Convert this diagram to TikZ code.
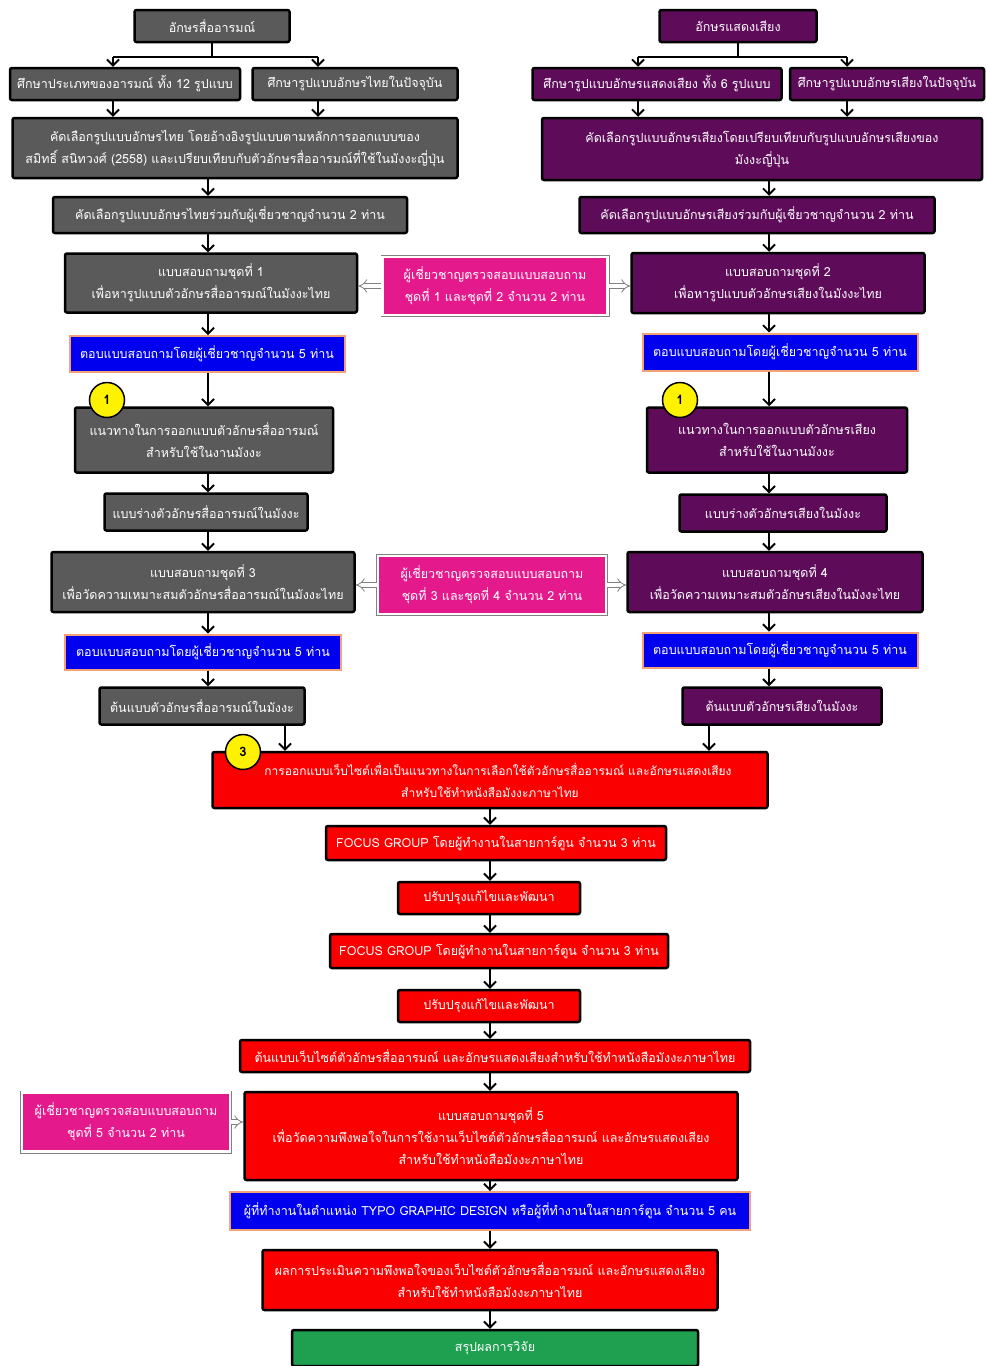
\documentclass[tikz,border=0pt]{standalone}
\usepackage{fontspec}
\setmainfont{Loma}[Script=Thai]
\usetikzlibrary{arrows.meta}
\definecolor{boxgray}{RGB}{90,90,90}
\definecolor{boxpurple}{RGB}{94,12,90}
\definecolor{boxpink}{RGB}{228,26,140}
\definecolor{boxblue}{RGB}{0,0,238}
\definecolor{boxorange}{RGB}{244,160,120}
\definecolor{boxred}{RGB}{250,0,0}
\definecolor{boxgreen}{RGB}{30,160,80}
\begin{document}
\begin{tikzpicture}
[x=1pt,y=-1pt,
  every node/.style={font=\fontsize{12.5}{22}\selectfont,text=white,align=center,inner sep=2pt},
  basebox/.style={shape=rectangle,rounded corners=2pt,draw=black,line width=2.5pt},
  graybox/.style={basebox,fill=boxgray},
  purplebox/.style={basebox,fill=boxpurple},
  redbox/.style={basebox,fill=boxred},
  greenbox/.style={basebox,fill=boxgreen},
  bluebox/.style={shape=rectangle,fill=boxblue,draw=boxorange,line width=2pt},
  pinkbox/.style={shape=rectangle,fill=boxpink,draw=white,line width=2.5pt,
    preaction={draw=gray,line width=4pt}},
  numdecorate/.style={shape=circle,fill=yellow,draw=black,line width=1.5pt,
    minimum size=35,text=black,font=\bfseries\fontsize{13}{13}\selectfont},
  linedecorate/.style={-{Straight Barb[length=6pt,width=12pt]},line width=1.8pt},
  checkdecorate/.style={-Implies,draw=gray,double=white,double distance=4pt,line width=0.8pt}]
\useasboundingbox[fill=white] (0,0) rectangle (986,1366);
%%% left column: emotion letters
% boxes
\node (l1) at (212,26) [graybox,minimum width=155,minimum height=32] {อักษรสื่ออารมณ์};
\node (l2a) at (125,84) [graybox,minimum width=230,minimum height=32] {ศึกษาประเภทของอารมณ์ ทั้ง 12 รูปแบบ};
\node (l2b) at (355,84) [graybox,minimum width=205,minimum height=32] {ศึกษารูปแบบอักษรไทยในปัจจุบัน};
\node (l3) at (235,148) [graybox,minimum width=445,minimum height=60] {คัดเลือกรูปแบบอักษรไทย โดยอ้างอิงรูปแบบตามหลักการออกแบบของ\\สมิทธิ์ สนิทวงศ์ (2558) และเปรียบเทียบกับตัวอักษรสื่ออารมณ์ที่ใช้ในมังงะญี่ปุ่น};
\node (l4) at (230,215) [graybox,minimum width=354,minimum height=36] {คัดเลือกรูปแบบอักษรไทยร่วมกับผู้เชี่ยวชาญจำนวน 2 ท่าน};
\node (l5) at (211,283) [graybox,minimum width=292,minimum height=59] {แบบสอบถามชุดที่ 1\\เพื่อหารูปแบบตัวอักษรสื่ออารมณ์ในมังงะไทย};
\node (l6) at (207,354) [bluebox,minimum width=275,minimum height=36] {ตอบแบบสอบถามโดยผู้เชี่ยวชาญจำนวน 5 ท่าน};
\node (l7) at (204,440) [graybox,minimum width=258,minimum height=65] {แนวทางในการออกแบบตัวอักษรสื่ออารมณ์\\สำหรับใช้ในงานมังงะ};
\node (l8) at (206,512) [graybox,minimum width=203,minimum height=37] {แบบร่างตัวอักษรสื่ออารมณ์ในมังงะ};
\node (l9) at (203,582) [graybox,minimum width=303,minimum height=60] {แบบสอบถามชุดที่ 3\\เพื่อวัดความเหมาะสมตัวอักษรสื่ออารมณ์ในมังงะไทย};
\node (l10) at (203,652) [bluebox,minimum width=276,minimum height=35] {ตอบแบบสอบถามโดยผู้เชี่ยวชาญจำนวน 5 ท่าน};
\node (l11) at (202,706) [graybox,minimum width=205,minimum height=37] {ต้นแบบตัวอักษรสื่ออารมณ์ในมังงะ};
\node (n1) at (107,400) [numdecorate] {1};
% arrows
\coordinate (ls) at (212,57);
\coordinate (lsl) at (113,57);
\coordinate (lsr) at (318,57);
\coordinate (lax) at (208,0);
\coordinate (lout) at (285,0);
\draw[line width=1.8pt] (l1) -- (ls) (lsl) -- (lsr);
\path
(lsl) edge[linedecorate] (l2a.north -| lsl)
(lsr) edge[linedecorate] (l2b.north -| lsr)
(l2a.south -| lsl) edge[linedecorate] (l3.north -| lsl)
(l2b.south -| lsr) edge[linedecorate] (l3.north -| lsr)
(l3.south -| lax) edge[linedecorate] (l4.north -| lax)
(l4.south -| lax) edge[linedecorate] (l5.north -| lax)
(l5.south -| lax) edge[linedecorate] (l6.north -| lax)
(l6.south -| lax) edge[linedecorate] (l7.north -| lax)
(l7.south -| lax) edge[linedecorate] (l8.north -| lax)
(l8.south -| lax) edge[linedecorate] (l9.north -| lax)
(l9.south -| lax) edge[linedecorate] (l10.north -| lax)
(l10.south -| lax) edge[linedecorate] (l11.north -| lax);
%
%%% right column: sound letters
% boxes
\node (r1) at (738,26) [purplebox,minimum width=157,minimum height=32] {อักษรแสดงเสียง};
\node (r2a) at (657,84) [purplebox,minimum width=249,minimum height=32] {ศึกษารูปแบบอักษรแสดงเสียง ทั้ง 6 รูปแบบ};
\node (r2b) at (887,84) [purplebox,minimum width=194,minimum height=32] {ศึกษารูปแบบอักษรเสียงในปัจจุบัน};
\node (r3) at (762,149) [purplebox,minimum width=440,minimum height=62] {คัดเลือกรูปแบบอักษรเสียงโดยเปรียบเทียบกับรูปแบบอักษรเสียงของ\\มังงะญี่ปุ่น};
\node (r4) at (757,215) [purplebox,minimum width=355,minimum height=36] {คัดเลือกรูปแบบอักษรเสียงร่วมกับผู้เชี่ยวชาญจำนวน 2 ท่าน};
\node (r5) at (778,283) [purplebox,minimum width=293,minimum height=60] {แบบสอบถามชุดที่ 2\\เพื่อหารูปแบบตัวอักษรเสียงในมังงะไทย};
\node (r6) at (780,352) [bluebox,minimum width=275,minimum height=37] {ตอบแบบสอบถามโดยผู้เชี่ยวชาญจำนวน 5 ท่าน};
\node (r7) at (777,440) [purplebox,minimum width=260,minimum height=65] {แนวทางในการออกแบบตัวอักษรเสียง\\สำหรับใช้ในงานมังงะ};
\node (r8) at (783,513) [purplebox,minimum width=207,minimum height=37] {แบบร่างตัวอักษรเสียงในมังงะ};
\node (r9) at (775,582) [purplebox,minimum width=295,minimum height=60] {แบบสอบถามชุดที่ 4\\เพื่อวัดความเหมาะสมตัวอักษรเสียงในมังงะไทย};
\node (r10) at (780,650) [bluebox,minimum width=275,minimum height=35] {ตอบแบบสอบถามโดยผู้เชี่ยวชาญจำนวน 5 ท่าน};
\node (r11) at (782,706) [purplebox,minimum width=199,minimum height=37] {ต้นแบบตัวอักษรเสียงในมังงะ};
\node (n2) at (680,400) [numdecorate] {1};
% arrows
\coordinate (rs) at (738,57);
\coordinate (rsl) at (638,57);
\coordinate (rsr) at (847,57);
\coordinate (rax) at (769,0);
\coordinate (rout) at (709,0);
\draw[line width=1.8pt] (r1) -- (rs) (rsl) -- (rsr);
\path
(rsl) edge[linedecorate] (r2a.north -| rsl)
(rsr) edge[linedecorate] (r2b.north -| rsr)
(r2a.south -| rsl) edge[linedecorate] (r3.north -| rsl)
(r2b.south -| rsr) edge[linedecorate] (r3.north -| rsr)
(r3.south -| rax) edge[linedecorate] (r4.north -| rax)
(r4.south -| rax) edge[linedecorate] (r5.north -| rax)
(r5.south -| rax) edge[linedecorate] (r6.north -| rax)
(r6.south -| rax) edge[linedecorate] (r7.north -| rax)
(r7.south -| rax) edge[linedecorate] (r8.north -| rax)
(r8.south -| rax) edge[linedecorate] (r9.north -| rax)
(r9.south -| rax) edge[linedecorate] (r10.north -| rax)
(r10.south -| rax) edge[linedecorate] (r11.north -| rax);
%
%%% expert checks
\node (pa) at (495,286) [pinkbox,minimum width=225,minimum height=58] {ผู้เชี่ยวชาญตรวจสอบแบบสอบถาม\\ชุดที่ 1 และชุดที่ 2 จำนวน 2 ท่าน};
\node (pb) at (492,585) [pinkbox,minimum width=228,minimum height=58] {ผู้เชี่ยวชาญตรวจสอบแบบสอบถาม\\ชุดที่ 3 และชุดที่ 4 จำนวน 2 ท่าน};
\node (pc) at (126,1122) [pinkbox,minimum width=208,minimum height=59] {ผู้เชี่ยวชาญตรวจสอบแบบสอบถาม\\ชุดที่ 5 จำนวน 2 ท่าน};
%
%%% centre column: website
% boxes
\node (c1) at (490,780) [redbox,minimum width=555,minimum height=56,font=\fontsize{12}{22}\selectfont] {\hspace*{16pt}การออกแบบเว็บไซต์เพื่อเป็นแนวทางในการเลือกใช้ตัวอักษรสื่ออารมณ์ และอักษรแสดงเสียง\\สำหรับใช้ทำหนังสือมังงะภาษาไทย};
\node (c2) at (496,843) [redbox,minimum width=340,minimum height=34] {FOCUS GROUP โดยผู้ทำงานในสายการ์ตูน จำนวน 3 ท่าน};
\node (c3) at (489,898) [redbox,minimum width=182,minimum height=32] {ปรับปรุงแก้ไขและพัฒนา};
\node (c4) at (499,951) [redbox,minimum width=338,minimum height=34] {FOCUS GROUP โดยผู้ทำงานในสายการ์ตูน จำนวน 3 ท่าน};
\node (c5) at (489,1006) [redbox,minimum width=182,minimum height=32] {ปรับปรุงแก้ไขและพัฒนา};
\node (c6) at (495,1056) [redbox,minimum width=510,minimum height=32] {ต้นแบบเว็บไซต์ตัวอักษรสื่ออารมณ์ และอักษรแสดงเสียงสำหรับใช้ทำหนังสือมังงะภาษาไทย};
\node (c7) at (491,1136) [redbox,minimum width=493,minimum height=88] {แบบสอบถามชุดที่ 5\\เพื่อวัดความพึงพอใจในการใช้งานเว็บไซต์ตัวอักษรสื่ออารมณ์ และอักษรแสดงเสียง\\สำหรับใช้ทำหนังสือมังงะภาษาไทย};
\node (c8) at (490,1211) [bluebox,minimum width=520,minimum height=38] {ผู้ที่ทำงานในตำแหน่ง TYPO GRAPHIC DESIGN หรือผู้ที่ทำงานในสายการ์ตูน จำนวน 5 คน};
\node (c9) at (490,1280) [redbox,minimum width=455,minimum height=60] {ผลการประเมินความพึงพอใจของเว็บไซต์ตัวอักษรสื่ออารมณ์ และอักษรแสดงเสียง\\สำหรับใช้ทำหนังสือมังงะภาษาไทย};
\node (c10) at (495,1348) [greenbox,minimum width=406,minimum height=36] {สรุปผลการวิจัย};
\node (n3) at (243,752) [numdecorate] {3};
% arrows
\coordinate (cax) at (490,0);
\path
(l11.south -| lout) edge[linedecorate] (c1.north -| lout)
(r11.south -| rout) edge[linedecorate] (c1.north -| rout)
(c1.south -| cax) edge[linedecorate] (c2.north -| cax)
(c2.south -| cax) edge[linedecorate] (c3.north -| cax)
(c3.south -| cax) edge[linedecorate] (c4.north -| cax)
(c4.south -| cax) edge[linedecorate] (c5.north -| cax)
(c5.south -| cax) edge[linedecorate] (c6.north -| cax)
(c6.south -| cax) edge[linedecorate] (c7.north -| cax)
(c7.south -| cax) edge[linedecorate] (c8.north -| cax)
(c8.south -| cax) edge[linedecorate] (c9.north -| cax)
(c9.south -| cax) edge[linedecorate] (c10.north -| cax);
% expert arrows
\path
(pa.west) edge[checkdecorate] (l5.east |- pa.west)
(pa.east) edge[checkdecorate] (r5.west |- pa.east)
(pb.west) edge[checkdecorate] (l9.east |- pb.west)
(pb.east) edge[checkdecorate] (r9.west |- pb.east)
(pc.east) edge[checkdecorate] (c7.west |- pc.east);
\end{tikzpicture}
\end{document}
